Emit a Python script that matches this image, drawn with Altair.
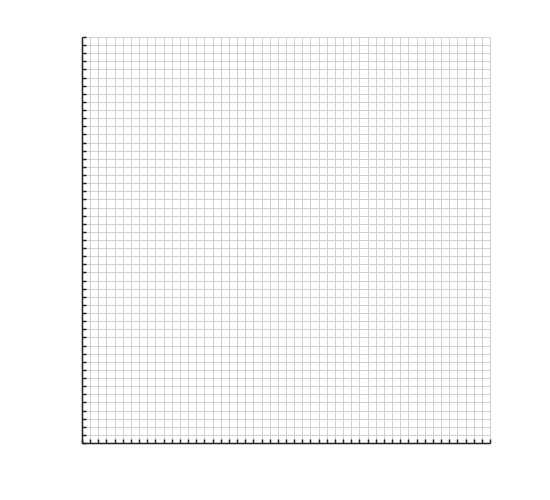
import altair as alt
import pandas as pd

x_ticks = list(range(0, 51))
y_ticks = list(range(0, 51))

df = pd.DataFrame({"x": x_ticks, "y": y_ticks})

scale_x = alt.Scale(domain=[0, 50], nice=False, zero=False)
scale_y = alt.Scale(domain=[0, 50], nice=False, zero=False)

grid_layer = alt.Chart(df).mark_point(opacity=0).encode(
    x=alt.X("x:Q", scale=scale_x, title=None,
            axis=alt.Axis(values=x_ticks, labels=False, ticks=False, grid=True,
                          gridColor="#d0d0d0", gridWidth=1, domain=True,
                          domainColor="#222222", domainWidth=1.5, orient="bottom")),
    y=alt.Y("y:Q", scale=scale_y, title=None,
            axis=alt.Axis(values=y_ticks, labels=False, ticks=False, grid=True,
                          gridColor="#d0d0d0", gridWidth=1, domain=True,
                          domainColor="#222222", domainWidth=1.5, orient="left")),
)

tick_layer = alt.Chart(df).mark_point(opacity=0).encode(
    x=alt.X("x:Q", scale=scale_x, title=None,
            axis=alt.Axis(values=x_ticks, labels=False, ticks=True, tickSize=4,
                          tickColor="#222222", tickWidth=1.5, offset=-4,
                          grid=False, domain=False, orient="bottom")),
    y=alt.Y("y:Q", scale=scale_y, title=None,
            axis=alt.Axis(values=y_ticks, labels=False, ticks=True, tickSize=4,
                          tickColor="#222222", tickWidth=1.5, offset=-4,
                          grid=False, domain=False, orient="left")),
)

chart = alt.layer(grid_layer, tick_layer).resolve_axis(
    x="independent", y="independent"
).properties(
    width=408,
    height=406,
    autosize=alt.AutoSizeParams(type="none"),
    padding={"left": 74, "top": 29, "right": 10, "bottom": 10},
).configure_view(stroke=None)

chart.save("out.html", embed_options={"renderer": "svg", "actions": False})
